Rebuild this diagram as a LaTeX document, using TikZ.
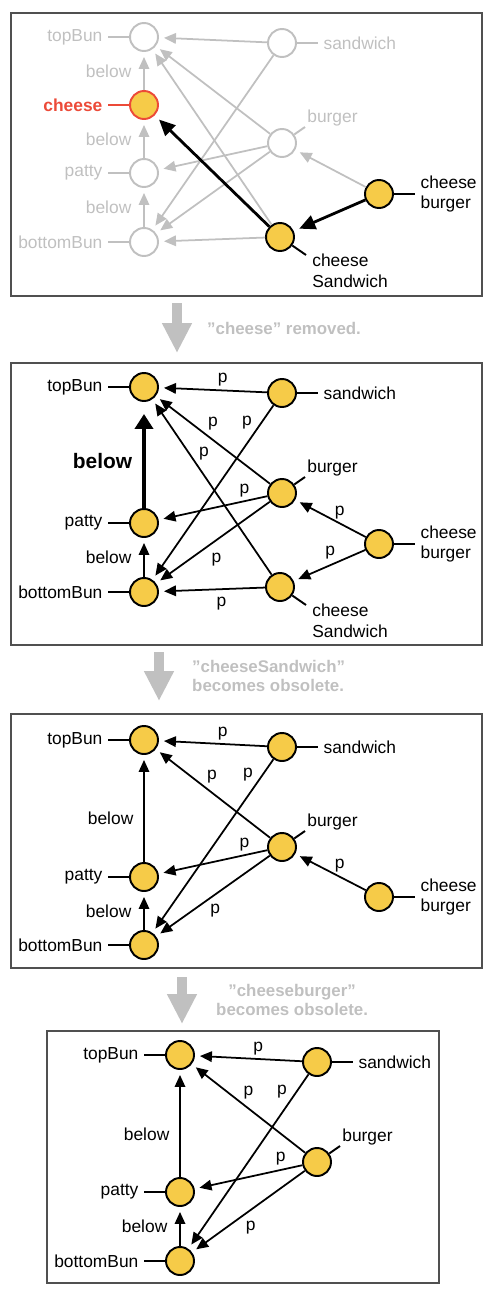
\documentclass[tikz,border=0pt]{standalone}
\usepackage{fontspec}
\setmainfont{Liberation Sans}
\usetikzlibrary{arrows.meta,positioning,calc}
\definecolor{yolk}{RGB}{246,203,72}
\definecolor{fade}{RGB}{192,192,192}
\definecolor{alert}{RGB}{236,74,56}
\definecolor{frame}{RGB}{80,80,80}
\newcommand{\dq}{\char34}
\tikzset{
  >={Triangle[length=2.4mm,width=2.1mm]},
  vtx/.style={circle,draw=#1,fill=yolk,line width=1.1pt,minimum size=5.6mm,inner sep=0pt},
  vtx/.default=black,
  hollow/.style={circle,draw=fade,fill=white,line width=1.1pt,minimum size=5.6mm,inner sep=0pt},
  lbl/.style={text=#1,font=\fontsize{9.9}{11.9}\selectfont,inner sep=3pt,align=left},
  lbl/.default=black,
  tick/.style={draw=#1,line width=1.1pt},
  tick/.default=black,
  rel/.style={->,draw=#1,line width=1pt,shorten >=1mm},
  rel/.default=black,
  heavy/.style={-{Triangle[length=3.2mm,width=2.9mm]},line width=1.6pt,shorten >=1.2mm},
  bigrel/.style={-{Triangle[length=3mm,width=3.6mm]},line width=2.3pt,shorten >=2.4mm},
  plbl/.style={font=\fontsize{9.9}{11.9}\selectfont,inner sep=2pt},
  panel/.style={draw=frame,line width=0.7pt},
  trans/.style={draw=fade,line width=2mm,-{Triangle[length=6mm,width=5.6mm]}},
  transtxt/.style={text=fade,font=\fontsize{9.6}{11.3}\selectfont\bfseries,align=left,anchor=west},
}
\begin{document}
\begin{tikzpicture}[x=0.02cm,y=-0.02cm]
\useasboundingbox (0,0) rectangle (493,1292);

% --- before: cheese still in the graph
\draw[panel] (11,13) rectangle (482,296);
\node[hollow] (topBunA) at (144,37) {};
\node[vtx=alert] (cheeseA) at (144,105) {};
\node[hollow] (pattyA) at (144,173) {};
\node[hollow] (bottomBunA) at (144,242) {};
\node[hollow] (sandwichA) at (282,43) {};
\node[hollow] (burgerA) at (282,143) {};
\node[vtx] (cheeseburgerA) at (379,194) {};
\node[vtx] (cheeseSandwichA) at (280,237) {};
\foreach \n/\t in {topBunA/topBun,pattyA/patty,bottomBunA/bottomBun}{
  \node[lbl=fade,left=4.2mm of \n] (\n-l) {\t};
  \draw[tick=fade] (\n) -- (\n-l);
}
\node[lbl=alert,font=\fontsize{9.9}{11.9}\selectfont\bfseries,left=4.2mm of cheeseA] (cheeseA-l) {cheese};
\draw[tick=alert] (cheeseA) -- (cheeseA-l);
\node[lbl=fade,right=4.2mm of sandwichA] (sandwichA-l) {sandwich};
\draw[tick=fade] (sandwichA) -- (sandwichA-l);
\coordinate (burgerA-t) at ($(burgerA)+(23,-16)$);
\node[lbl=fade,inner sep=0pt,anchor=base west] (burgerA-l) at ($(burgerA)+(25,-21)$) {burger};
\draw[tick=fade] (burgerA) -- (burgerA-t);
\node[lbl,right=4.2mm of cheeseburgerA] (cheeseburgerA-l) {cheese\\burger};
\draw[tick] (cheeseburgerA) -- (cheeseburgerA-l);
\coordinate (cheeseSandwichA-t) at ($(cheeseSandwichA)+(26,18)$);
\node[lbl,inner sep=0pt,anchor=north west] (cheeseSandwichA-l) at ($(cheeseSandwichA)+(32,17)$) {cheese\\Sandwich};
\draw[tick] (cheeseSandwichA) -- (cheeseSandwichA-t);
\foreach \s/\t in {sandwichA/topBunA,burgerA/topBunA,cheeseSandwichA/topBunA,sandwichA/bottomBunA,
  burgerA/pattyA,burgerA/bottomBunA,cheeseSandwichA/bottomBunA,cheeseburgerA/burgerA}
  \draw[rel=fade] (\s) -- (\t);
\foreach \s/\t in {cheeseA/topBunA,pattyA/cheeseA,bottomBunA/pattyA}
  \draw[rel=fade] (\s) -- node[lbl=fade,left=1.3mm] {below} (\t);
\draw[heavy] (cheeseburgerA) -- (cheeseSandwichA);
\draw[heavy] (cheeseSandwichA) -- (cheeseA);

% --- step 1
\coordinate (goA) at (177,303);
\coordinate (goA-e) at (177,353);
\draw[trans] (goA) -- (goA-e);
\node[transtxt] (noteA) at (201,328) {\dq cheese\dq{} removed.};

\draw[panel] (11,363) rectangle (482,645);
\node[vtx] (topBunB) at (144,387) {};
\node[vtx] (pattyB) at (144,523) {};
\node[vtx] (bottomBunB) at (144,592) {};
\node[vtx] (sandwichB) at (282,393) {};
\node[vtx] (burgerB) at (282,493) {};
\node[vtx] (cheeseburgerB) at (379,544) {};
\node[vtx] (cheeseSandwichB) at (280,587) {};
\foreach \n/\t in {topBunB/topBun,pattyB/patty,bottomBunB/bottomBun}{
  \node[lbl,left=4.2mm of \n] (\n-l) {\t};
  \draw[tick] (\n) -- (\n-l);
}
\node[lbl,right=4.2mm of sandwichB] (sandwichB-l) {sandwich};
\draw[tick] (sandwichB) -- (sandwichB-l);
\coordinate (burgerB-t) at ($(burgerB)+(23,-16)$);
\node[lbl,inner sep=0pt,anchor=base west] (burgerB-l) at ($(burgerB)+(25,-21)$) {burger};
\draw[tick] (burgerB) -- (burgerB-t);
\node[lbl,right=4.2mm of cheeseburgerB] (cheeseburgerB-l) {cheese\\burger};
\draw[tick] (cheeseburgerB) -- (cheeseburgerB-l);
\coordinate (cheeseSandwichB-t) at ($(cheeseSandwichB)+(26,18)$);
\node[lbl,inner sep=0pt,anchor=north west] (cheeseSandwichB-l) at ($(cheeseSandwichB)+(32,17)$) {cheese\\Sandwich};
\draw[tick] (cheeseSandwichB) -- (cheeseSandwichB-t);
\draw[rel] (sandwichB) -- node[plbl,pos=.41,above] {p} (topBunB);
\draw[rel] (burgerB) -- node[plbl,pos=.5,above=3pt] {p} (topBunB);
\draw[rel] (sandwichB) -- node[plbl,pos=.1,left=3pt] {p} (bottomBunB);
\draw[rel] (cheeseSandwichB) -- node[plbl,pos=.69,right=3pt] {p} (topBunB);
\draw[rel] (burgerB) -- node[plbl,pos=.21,above] {p} (pattyB);
\draw[rel] (cheeseburgerB) -- node[plbl,pos=.37,above] {p} (burgerB);
\draw[rel] (cheeseburgerB) -- node[plbl,pos=.49,above=1pt] {p} (cheeseSandwichB);
\draw[rel] (burgerB) -- node[plbl,pos=.47,below=5pt] {p} (bottomBunB);
\draw[rel] (cheeseSandwichB) -- node[plbl,pos=.41,below=2pt] {p} (bottomBunB);
\draw[bigrel] (pattyB) -- node[lbl,font=\fontsize{11.9}{14}\selectfont\bfseries,pos=.44,left=0.9mm] {below} (topBunB);
\draw[rel] (bottomBunB) -- node[lbl,left=1.3mm] {below} (pattyB);

% --- step 2
\coordinate (goB) at (159,652);
\coordinate (goB-e) at (159,701);
\draw[trans] (goB) -- (goB-e);
\node[transtxt] (noteB) at (186,676) {\dq cheeseSandwich\dq\\becomes obsolete.};

\draw[panel] (11,714) rectangle (482,968);
\node[vtx] (topBunC) at (144,740) {};
\node[vtx] (pattyC) at (144,877) {};
\node[vtx] (bottomBunC) at (144,945) {};
\node[vtx] (sandwichC) at (282,747) {};
\node[vtx] (burgerC) at (282,847) {};
\node[vtx] (cheeseburgerC) at (379,897) {};
\foreach \n/\t in {topBunC/topBun,pattyC/patty,bottomBunC/bottomBun}{
  \node[lbl,left=4.2mm of \n] (\n-l) {\t};
  \draw[tick] (\n) -- (\n-l);
}
\node[lbl,right=4.2mm of sandwichC] (sandwichC-l) {sandwich};
\draw[tick] (sandwichC) -- (sandwichC-l);
\coordinate (burgerC-t) at ($(burgerC)+(23,-16)$);
\node[lbl,inner sep=0pt,anchor=base west] (burgerC-l) at ($(burgerC)+(25,-21)$) {burger};
\draw[tick] (burgerC) -- (burgerC-t);
\node[lbl,right=4.2mm of cheeseburgerC] (cheeseburgerC-l) {cheese\\burger};
\draw[tick] (cheeseburgerC) -- (cheeseburgerC-l);
\draw[rel] (sandwichC) -- node[plbl,pos=.41,above] {p} (topBunC);
\draw[rel] (burgerC) -- node[plbl,pos=.51,above=3pt] {p} (topBunC);
\draw[rel] (sandwichC) -- node[plbl,pos=.09,left=3pt] {p} (bottomBunC);
\draw[rel] (burgerC) -- node[plbl,pos=.21,above] {p} (pattyC);
\draw[rel] (cheeseburgerC) -- node[plbl,pos=.37,above] {p} (burgerC);
\draw[rel] (burgerC) -- node[plbl,pos=.48,below=3pt] {p} (bottomBunC);
\draw[rel] (pattyC) -- node[lbl,pos=.41,left=0.9mm] {below} (topBunC);
\draw[rel] (bottomBunC) -- node[lbl,left=1.3mm] {below} (pattyC);

% --- step 3
\coordinate (goC) at (182,977);
\coordinate (goC-e) at (182,1024);
\draw[trans] (goC) -- (goC-e);
\node[transtxt,align=center] (noteC) at (210,1000) {\dq cheeseburger\dq\\becomes obsolete.};

\draw[panel] (47,1031) rectangle (439,1283);
\node[vtx] (topBunD) at (180,1055) {};
\node[vtx] (pattyD) at (180,1192) {};
\node[vtx] (bottomBunD) at (180,1261) {};
\node[vtx] (sandwichD) at (317,1062) {};
\node[vtx] (burgerD) at (317,1162) {};
\foreach \n/\t in {topBunD/topBun,pattyD/patty,bottomBunD/bottomBun}{
  \node[lbl,left=4.2mm of \n] (\n-l) {\t};
  \draw[tick] (\n) -- (\n-l);
}
\node[lbl,right=4.2mm of sandwichD] (sandwichD-l) {sandwich};
\draw[tick] (sandwichD) -- (sandwichD-l);
\coordinate (burgerD-t) at ($(burgerD)+(23,-16)$);
\node[lbl,inner sep=0pt,anchor=base west] (burgerD-l) at ($(burgerD)+(25,-21)$) {burger};
\draw[tick] (burgerD) -- (burgerD-t);
\draw[rel] (sandwichD) -- node[plbl,pos=.41,above] {p} (topBunD);
\draw[rel] (burgerD) -- node[plbl,pos=.5,above=3pt] {p} (topBunD);
\draw[rel] (sandwichD) -- node[plbl,pos=.1,left=3pt] {p} (bottomBunD);
\draw[rel] (burgerD) -- node[plbl,pos=.2,above] {p} (pattyD);
\draw[rel] (burgerD) -- node[plbl,pos=.48,below=4pt] {p} (bottomBunD);
\draw[rel] (pattyD) -- node[lbl,pos=.4,left=0.9mm] {below} (topBunD);
\draw[rel] (bottomBunD) -- node[lbl,left=1.3mm] {below} (pattyD);
\end{tikzpicture}
\end{document}
